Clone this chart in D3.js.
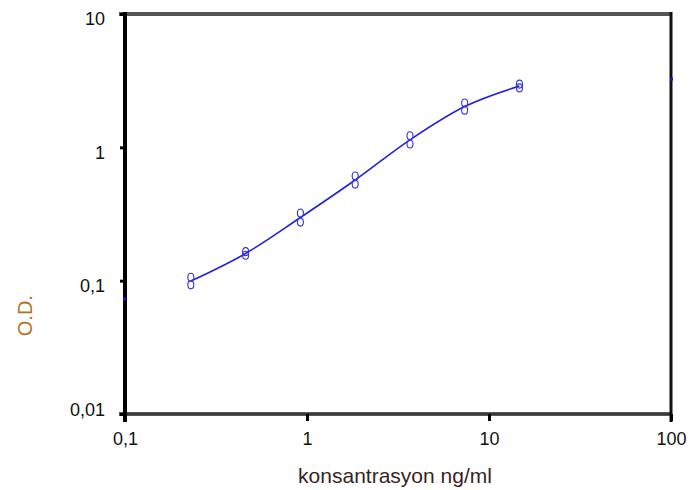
<!DOCTYPE html>
<html>
<head>
<meta charset="utf-8">
<script src="https://cdn.jsdelivr.net/npm/d3@7"></script>
<style>
  body { margin: 0; background: #fff; }
  svg { display: block; }
</style>
</head>
<body>
<div id="chart"></div>
<script>
// concentrations (ng/ml) and duplicate O.D. readings
const conc = [0.23, 0.46, 0.92, 1.84, 3.68, 7.35, 14.7];
const odRep1 = [0.106, 0.165, 0.322, 0.61, 1.22, 2.15, 2.98];
const odRep2 = [0.093, 0.155, 0.275, 0.53, 1.06, 1.9, 2.79];
// fitted curve asymptotes (little blue marks on the side axes)
const asymptotes = [0.073, 3.25];

const xTicks = [0.1, 1, 10, 100];
const xTickLabels = ['0,1', '1', '10', '100'];
const yTicks = [0.01, 0.1, 1, 10];
const yTickLabels = ['0,01', '0,1', '1', '10'];

const margin = { left: 125, right: 23, top: 14, bottom: 76 };
const W = 694, H = 490;
const width = W - margin.left - margin.right;
const height = H - margin.top - margin.bottom;

const svg = d3.select('#chart').append('svg')
  .attr('width', W)
  .attr('height', H);
const g = svg.append('g').attr('transform', 'translate(' + margin.left + ',' + margin.top + ')');

const x = d3.scaleLog().domain([0.1, 100]).range([0, width]);
const y = d3.scaleLog().domain([0.01, 10]).range([height, 0]);

const font = '"Liberation Sans", Arial, sans-serif';

// frame: top and bottom grey, left and right black
g.append('line')
  .attr('x1', -6).attr('x2', width)
  .attr('y1', 0).attr('y2', 0)
  .attr('stroke', '#555').attr('stroke-width', 4);
g.append('line')
  .attr('x1', -6).attr('x2', width)
  .attr('y1', height).attr('y2', height)
  .attr('stroke', '#555').attr('stroke-width', 4);
g.append('line')
  .attr('x1', 0).attr('x2', width)
  .attr('y1', height).attr('y2', height)
  .attr('stroke', '#222').attr('stroke-width', 1.2);
g.append('line')
  .attr('x1', 0).attr('x2', 0)
  .attr('y1', -2).attr('y2', height + 8)
  .attr('stroke', '#000').attr('stroke-width', 4);
g.append('line')
  .attr('x1', width).attr('x2', width)
  .attr('y1', -2).attr('y2', height + 8)
  .attr('stroke', '#111').attr('stroke-width', 3);

// Y axis ticks and labels
const yAxis = d3.axisLeft(y)
  .tickValues(yTicks)
  .tickSize(5)
  .tickFormat((d, i) => yTickLabels[i]);
const ya = g.append('g').call(yAxis);
ya.select('.domain').remove();
ya.selectAll('.tick line').attr('stroke', '#000').attr('stroke-width', 3);
ya.selectAll('.tick text')
  .attr('x', -20)
  .attr('dy', (d, i) => i === 0 ? '0.1em' : '0.6em')
  .attr('fill', '#111')
  .style('font-family', font)
  .style('font-size', '18px');

// X axis ticks and labels
const xAxis = d3.axisBottom(x)
  .tickValues(xTicks)
  .tickSize(7)
  .tickFormat((d, i) => xTickLabels[i]);
const xa = g.append('g').attr('transform', 'translate(0,' + height + ')').call(xAxis);
xa.select('.domain').remove();
xa.selectAll('.tick line').attr('stroke', '#000').attr('stroke-width', 3);
xa.selectAll('.tick text')
  .attr('y', 18)
  .attr('fill', '#111')
  .style('font-family', font)
  .style('font-size', '18px');

// asymptote marks
g.append('rect')
  .attr('x', -2).attr('y', y(asymptotes[0]) - 1.5)
  .attr('width', 3).attr('height', 3)
  .attr('fill', '#1010ff');
g.append('rect')
  .attr('x', width - 1).attr('y', y(asymptotes[1]) - 1.5)
  .attr('width', 3).attr('height', 3)
  .attr('fill', '#1010ff');

// axis titles
g.append('text')
  .attr('x', x(1) + 88)
  .attr('y', height + 69)
  .attr('text-anchor', 'middle')
  .attr('fill', '#3a1f1f')
  .style('font-family', font)
  .style('font-size', '21px')
  .text('konsantrasyon ng/ml');
g.append('text')
  .attr('transform', 'translate(' + (-93) + ',' + (y(0.1) + 35) + ') rotate(-90)')
  .attr('text-anchor', 'middle')
  .attr('fill', '#b0741a')
  .style('font-family', font)
  .style('font-size', '20px')
  .text('O.D.');

// fitted curve through geometric mean of duplicates
const means = conc.map((c, i) => ({ c: c, od: Math.sqrt(odRep1[i] * odRep2[i]) }));
const line = d3.line()
  .x(d => x(d.c))
  .y(d => y(d.od))
  .curve(d3.curveMonotoneX);
g.append('path')
  .attr('d', line(means))
  .attr('fill', 'none')
  .attr('stroke', '#2222d8')
  .attr('stroke-width', 1.6);

// replicate markers
const pts = [];
conc.forEach((c, i) => {
  pts.push({ c: c, od: odRep1[i] });
  pts.push({ c: c, od: odRep2[i] });
});
g.selectAll('ellipse.pt')
  .data(pts)
  .enter()
  .append('ellipse')
  .attr('class', 'pt')
  .attr('cx', d => x(d.c))
  .attr('cy', d => y(d.od))
  .attr('rx', 3)
  .attr('ry', 4)
  .attr('fill', 'none')
  .attr('stroke', '#3434e0')
  .attr('stroke-width', 1.1);
</script>
</body>
</html>
